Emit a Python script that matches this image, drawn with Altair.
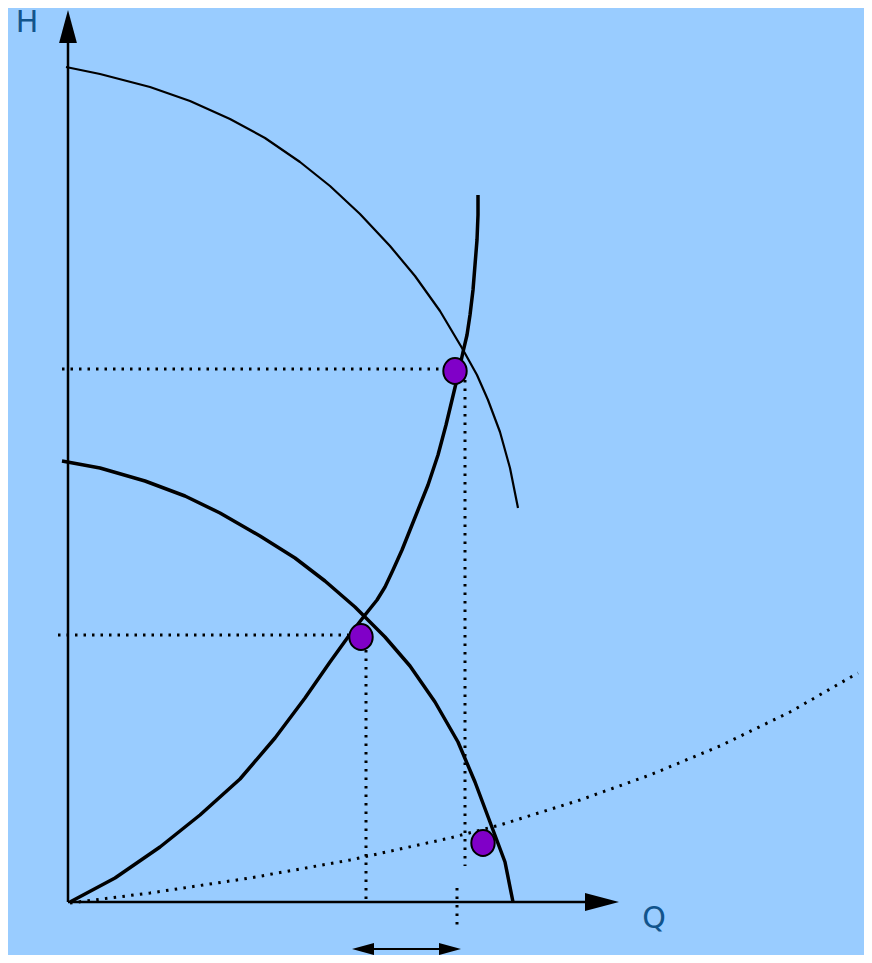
import altair as alt
import pandas as pd

# ---- data (Q = flow, H = head) ----
upper_q = [-2, 32, 82, 122, 162, 197, 232, 262, 292, 322, 347, 372, 394, 409, 420, 432, 442, 450]
upper_h = [835, 828, 815, 801, 783, 764, 740, 716, 688, 656, 626, 591, 554, 527, 502, 470, 434, 394]

lower_q = [-6, 32, 77, 117, 152, 192, 227, 257, 287, 317, 342, 367, 390, 407, 422, 437, 445]
lower_h = [441, 434, 421, 406, 389, 366, 344, 321, 295, 265, 236, 200, 160, 120, 80, 40, 0]

sys_q = [2, 47, 92, 132, 172, 207, 237, 262, 280, 297, 309, 317, 325, 334, 342, 350, 360,
         370, 378, 384, 390, 395, 399, 402, 405, 407, 409, 410, 410]
sys_h = [0, 24, 55, 87, 123, 164, 204, 240, 265, 287, 302, 315, 332, 352, 372, 392, 417,
         447, 477, 502, 527, 550, 567, 587, 612, 637, 662, 687, 707]

sys2_q = [2, 82, 182, 282, 382, 432, 512, 582, 652, 722, 790]
sys2_h = [-1, 9, 24, 42, 64, 77, 102, 127, 156, 190, 229]

# dotted guide lines: (q1, h1, q2, h2)
guides = [(-6, 533, 372, 533), (-10, 267, 280, 267),
          (397, 522, 397, 36), (298, 252, 298, 2), (389, 14, 389, -23)]

op_q = [387, 293, 415]
op_h = [531, 265, 59]

BG = "#99ccff"
TXT = "#11548c"

xs = alt.Scale(domain=[-60, 796], nice=False, zero=False)
ys = alt.Scale(domain=[-53, 894], nice=False, zero=False)


def enc(**kw):
    return dict(
        x=alt.X("q:Q", scale=xs, axis=None),
        y=alt.Y("h:Q", scale=ys, axis=None),
        **kw,
    )


def line(qs, hs, width, dash=None):
    df = pd.DataFrame({"q": qs, "h": hs, "i": list(range(len(qs)))})
    kw = dict(color="black", strokeWidth=width, strokeCap="butt", strokeJoin="round")
    if dash:
        kw["strokeDash"] = dash
    return alt.Chart(df).mark_line(**kw).encode(**enc(order="i:O"))


def head(q, h, path, size):
    df = pd.DataFrame({"q": [q], "h": [h]})
    return alt.Chart(df).mark_point(
        shape=path, size=size, filled=True, color="black", opacity=1, strokeWidth=0
    ).encode(**enc())


def label(q, h, t):
    df = pd.DataFrame({"q": [q], "h": [h], "t": [t]})
    return alt.Chart(df).mark_text(
        fontSize=30, font="DejaVu Sans", color=TXT, baseline="alphabetic", align="center"
    ).encode(**enc(text="t:N"))


layers = []
# axes
layers.append(line([0, 0], [0, 862], 2.5))
layers.append(line([0, 522], [0, 0], 2.5))
layers.append(head(0, 875.5, "M0,-1L0.54,1L-0.54,1Z", 33 * 33))
layers.append(head(534, 0, "M1,0L-1,-0.53L-1,0.53Z", 34 * 34))
# curves
layers.append(line(upper_q, upper_h, 2.2))
layers.append(line(lower_q, lower_h, 3.5))
layers.append(line(sys_q, sys_h, 3.5))
layers.append(line(sys2_q, sys2_h, 3, dash=[2.5, 6.3]))
for q1, h1, q2, h2 in guides:
    layers.append(line([q1, q2], [h1, h2], 3, dash=[2.5, 6]))
# double arrow
layers.append(line([294, 382], [-47, -47], 2))
layers.append(head(295, -47, "M-1,0L1,-0.55L1,0.55Z", 22 * 22))
layers.append(head(382, -47, "M1,0L-1,-0.55L-1,0.55Z", 22 * 22))
# operating points
pts = pd.DataFrame({"q": op_q, "h": op_h})
layers.append(
    alt.Chart(pts).mark_point(
        shape="M0,-1A0.9,1 0 1,0 0,1A0.9,1 0 1,0 0,-1Z", size=26 * 26, filled=True,
        fill="#8000c8", stroke="black", strokeWidth=2, opacity=1
    ).encode(**enc())
)
# labels
layers.append(label(-41, 870, "H"))
layers.append(label(586, -26, "Q"))

chart = (
    alt.layer(*layers)
    .properties(width=856, height=947, background=BG, padding=0,
                autosize=alt.AutoSizeParams(type="none"))
    .configure_view(stroke=None, fill=BG)
)

chart.save("out.html", embed_options={"renderer": "svg", "actions": False})
